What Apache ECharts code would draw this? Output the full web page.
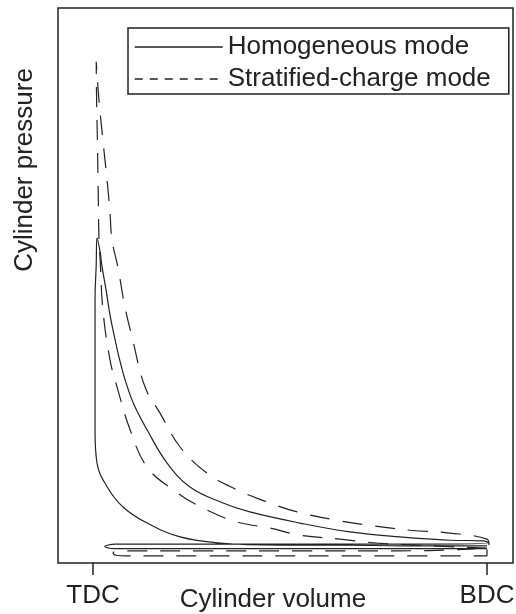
<!DOCTYPE html>
<html>
<head>
<meta charset="utf-8">
<script src="https://cdn.jsdelivr.net/npm/echarts@6/dist/echarts.min.js"></script>
<style>
  html, body { margin: 0; padding: 0; background: #fff; }
  #chart { width: 516px; height: 614px; }
</style>
</head>
<body>
<div id="chart"></div>
<script>
// volume: 0 = TDC, 1 = BDC ; pressure: arbitrary units (0-100 of plot height)
const tickValues = [0, 1];
const tickLabels = ["TDC", "BDC"];
const seriesNames = ["Homogeneous mode", "Stratified-charge mode"];

// homogeneous loop: compression -> peak -> expansion -> exhaust -> intake
const homVol = [1.000, 0.906, 0.779, 0.652, 0.475, 0.322, 0.221, 0.137, 0.076, 0.036, 0.010, 0.005, 0.005, 0.005, 0.005, 0.008, 0.010,
  0.018, 0.023, 0.033, 0.043, 0.056, 0.069, 0.084, 0.104, 0.137, 0.188, 0.246, 0.330, 0.398, 0.525, 0.652, 0.779, 0.906, 0.990, 1.005,
  0.779, 0.525, 0.272, 0.056, 0.036, 0.030, 0.038, 0.056, 0.272, 0.525, 0.779, 1.000];
const homPres = [3.1, 3.1, 3.1, 3.2, 3.2, 3.6, 4.7, 7.2, 10.1, 13.7, 18.0, 24.0, 29.4, 38.4, 47.4, 53.7, 58.6,
  56.0, 53.3, 49.2, 44.7, 40.2, 36.2, 32.4, 28.5, 24.0, 18.0, 13.7, 10.8, 9.2, 7.2, 5.6, 4.7, 4.1, 4.0, 3.6,
  3.4, 3.4, 3.4, 3.4, 3.2, 3.0, 2.7, 2.6, 2.6, 2.6, 2.6, 2.6];

// stratified-charge loop
const strVol = [1.000, 0.855, 0.721, 0.627, 0.525, 0.449, 0.365, 0.279, 0.203, 0.137, 0.094, 0.061, 0.043, 0.025, 0.018, 0.015, 0.013, 0.011, 0.009, 0.008,
  0.015, 0.025, 0.038, 0.043, 0.048, 0.063, 0.081, 0.099, 0.132, 0.170, 0.221, 0.289, 0.365, 0.449, 0.518, 0.619, 0.711, 0.805, 0.906, 1.000, 1.005,
  0.779, 0.525, 0.272, 0.069, 0.056, 0.051, 0.058, 0.081, 0.272, 0.525, 0.779, 1.000, 1.000];
const strPres = [2.7, 3.1, 3.6, 4.3, 5.0, 6.3, 7.4, 9.9, 13.2, 17.3, 24.0, 31.7, 36.6, 45.6, 54.6, 58.2, 67.2, 76.2, 83.4, 90.3,
  83.4, 76.2, 67.2, 63.1, 58.2, 53.3, 46.1, 40.7, 31.7, 27.0, 20.9, 16.2, 13.2, 10.8, 9.2, 7.7, 6.7, 5.9, 5.4, 4.3, 3.2,
  2.2, 2.2, 2.2, 2.2, 2.1, 1.8, 1.4, 1.3, 1.3, 1.3, 1.3, 1.3, 2.7];

const font = "'Liberation Sans', Arial, sans-serif";
const ink = "#222";

const chart = echarts.init(document.getElementById("chart"));
chart.setOption({
  animation: false,
  grid: {
    left: 58, top: 8, right: 3, bottom: 51,
    outerBoundsMode: "none",
    show: true, borderColor: ink, borderWidth: 1.5
  },
  legend: {
    show: true,
    orient: "vertical",
    left: 128,
    top: 28,
    itemWidth: 88,
    itemHeight: 26,
    itemGap: 6,
    padding: [6, 18, 2, 6],
    borderColor: ink,
    borderWidth: 1.5,
    backgroundColor: "#fff",
    itemStyle: { opacity: 0 },
    textStyle: { fontFamily: font, fontSize: 26, color: ink },
    data: [
      { name: seriesNames[0], lineStyle: { type: "solid", width: 1.5, color: ink, opacity: 1 } },
      { name: seriesNames[1], lineStyle: { type: [8, 7], width: 1.5, color: ink, opacity: 1 } }
    ]
  },
  xAxis: {
    type: "value",
    min: -0.089,
    max: 1.066,
    name: "Cylinder volume",
    nameLocation: "middle",
    nameGap: 24,
    nameMoveOverlap: false,
    nameTextStyle: { fontFamily: font, fontSize: 26, color: ink, verticalAlign: "top", padding: [0, 25, 0, 0] },
    axisLine: { show: false },
    splitLine: { show: false },
    axisTick: { show: true, customValues: tickValues, length: 12, lineStyle: { color: ink, width: 1.5 } },
    axisLabel: {
      customValues: tickValues,
      margin: 20,
      fontFamily: font,
      fontSize: 26,
      color: ink,
      formatter: (v) => tickLabels[tickValues.indexOf(v)]
    }
  },
  yAxis: {
    type: "value",
    min: 0,
    max: 100,
    name: "Cylinder pressure",
    nameLocation: "middle",
    nameRotate: 90,
    nameGap: 20,
    nameMoveOverlap: false,
    nameTextStyle: { fontFamily: font, fontSize: 26, color: ink, padding: [0, 0, 0, 231] },
    axisLine: { show: false },
    axisTick: { show: false },
    axisLabel: { show: false },
    splitLine: { show: false }
  },
  series: [
    {
      name: seriesNames[0],
      type: "line",
      data: homVol.map((v, i) => [v, homPres[i]]),
      showSymbol: false,
      symbol: "none",
      smooth: 0.4,
      lineStyle: { color: ink, width: 1.2 },
      itemStyle: { color: ink }
    },
    {
      name: seriesNames[1],
      type: "line",
      data: strVol.map((v, i) => [v, strPres[i]]),
      showSymbol: false,
      symbol: "none",
      smooth: 0.4,
      lineStyle: { color: ink, width: 1.2, type: [20, 13] },
      itemStyle: { color: ink }
    }
  ]
});
</script>
</body>
</html>
